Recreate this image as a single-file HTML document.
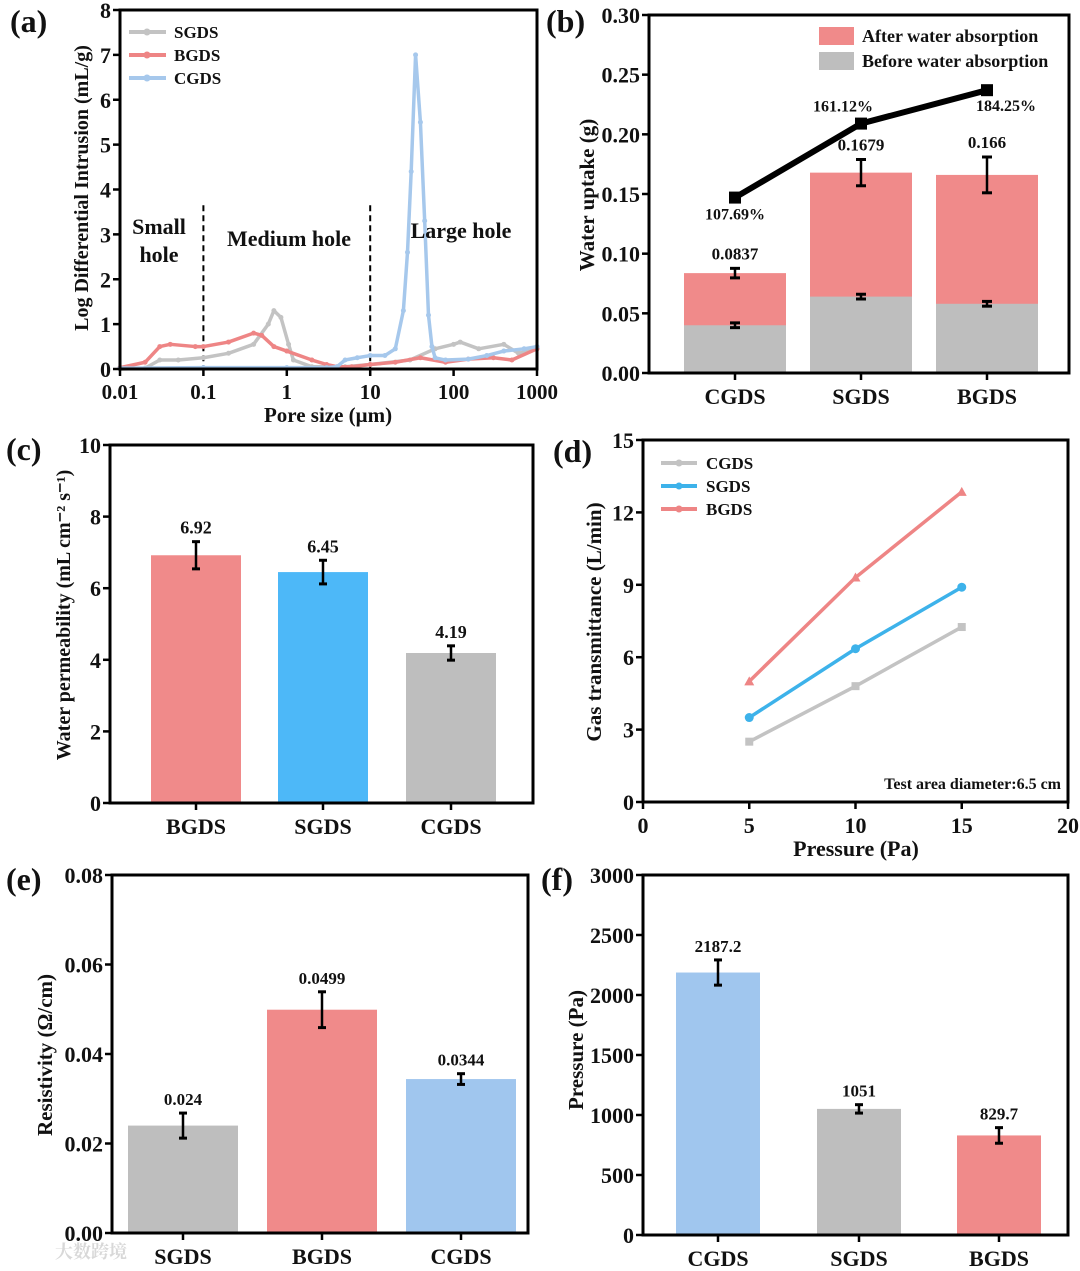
<!DOCTYPE html>
<html><head><meta charset="utf-8">
<style>
html,body{margin:0;padding:0;background:#fff;}
svg{display:block;font-family:"Liberation Serif","Noto Serif CJK SC",serif;font-weight:bold;}
</style></head>
<body>
<svg id="fig" width="1080" height="1271" viewBox="0 0 1080 1271" xmlns="http://www.w3.org/2000/svg"></svg>
<script>
// ---------- Panel (a) data ----------
const aCgdsX=[0.01,0.1,1,3,4,5,7,10,15,20,25,28,31,35,40,45,50,55,60,80,150,250,400,700,1000];
const aCgdsY=[0.02,0.03,0.03,0.03,0.05,0.2,0.25,0.3,0.3,0.45,1.3,2.6,4.4,7.0,5.5,3.3,1.2,0.5,0.25,0.2,0.22,0.3,0.4,0.45,0.5];
const aSgdsX=[0.01,0.02,0.03,0.05,0.1,0.2,0.4,0.6,0.7,0.85,1.05,1.2,2,5,10,30,60,100,120,200,400,600,1000];
const aSgdsY=[0.0,0.02,0.2,0.2,0.25,0.35,0.55,1.0,1.3,1.15,0.55,0.2,0.05,0.05,0.1,0.2,0.45,0.55,0.6,0.45,0.55,0.35,0.45];
const aBgdsX=[0.01,0.02,0.03,0.04,0.08,0.1,0.2,0.4,0.5,0.7,1,2,3,4,6,10,20,40,80,150,300,500,1000];
const aBgdsY=[0.03,0.15,0.5,0.55,0.5,0.5,0.6,0.8,0.75,0.5,0.4,0.2,0.1,0.05,0.05,0.1,0.15,0.25,0.15,0.22,0.25,0.2,0.45];
const aXTicks=[0.01,0.1,1,10,100,1000];
const aXTickLabels=["0.01","0.1","1","10","100","1000"];
const aYTicks=[0,1,2,3,4,5,6,7,8];
// ---------- Panel (b) data ----------
const bCats=["CGDS","SGDS","BGDS"];
const bBefore=[0.040,0.064,0.058];
const bBeforeErr=[0.002,0.002,0.002];
const bAfter=[0.0837,0.1679,0.166];
const bAfterErr=[0.004,0.011,0.015];
const bAfterLabels=["0.0837","0.1679","0.166"];
const bRatio=[0.147,0.209,0.237];
const bRatioLabels=["107.69%","161.12%","184.25%"];
const bYTicks=[0,0.05,0.10,0.15,0.20,0.25,0.30];
// ---------- Panel (c) data ----------
const cCats=["BGDS","SGDS","CGDS"];
const cVals=[6.92,6.45,4.19];
const cErr=[0.38,0.33,0.2];
const cLabels=["6.92","6.45","4.19"];
const cYTicks=[0,2,4,6,8,10];
// ---------- Panel (d) data ----------
const dX=[5,10,15];
const dCgds=[2.5,4.8,7.25];
const dSgds=[3.5,6.35,8.9];
const dBgds=[5.0,9.3,12.85];
const dXTicks=[0,5,10,15,20];
const dYTicks=[0,3,6,9,12,15];
// ---------- Panel (e) data ----------
const eCats=["SGDS","BGDS","CGDS"];
const eVals=[0.024,0.0499,0.0344];
const eErr=[0.0028,0.004,0.0012];
const eLabels=["0.024","0.0499","0.0344"];
const eYTicks=[0,0.02,0.04,0.06,0.08];
// ---------- Panel (f) data ----------
const fCats=["CGDS","SGDS","BGDS"];
const fVals=[2187.2,1051,829.7];
const fErr=[105,35,65];
const fLabels=["2187.2","1051","829.7"];
const fYTicks=[0,500,1000,1500,2000,2500,3000];

const NS="http://www.w3.org/2000/svg";
const svg=document.getElementById('fig');
function mk(tag,attrs,parent){const e=document.createElementNS(NS,tag);for(const k in attrs)e.setAttribute(k,attrs[k]);(parent||svg).appendChild(e);return e;}
function txt(s,x,y,size,anchor,parent,extra){const t=mk('text',Object.assign({x:x,y:y,'font-size':size,'text-anchor':anchor||'middle',fill:'#111'},extra||{}),parent);t.textContent=s;return t;}
function lin(a,b){return v=>b[0]+(v-a[0])*(b[1]-b[0])/(a[1]-a[0]);}
function logs(a,b){return v=>b[0]+(Math.log10(v)-Math.log10(a[0]))*(b[1]-b[0])/(Math.log10(a[1])-Math.log10(a[0]));}

function axesBox(g,L,R,T,B,name){
  const r=mk('rect',{x:L,y:T,width:R-L,height:B-T,fill:'none',stroke:'#000','stroke-width':3},g);
  
  
}
function yAxis(g,ticks,fmt,y,L,size,name){
  const ga=mk('g',{},g);
  
  
  ticks.forEach(v=>{mk('line',{x1:L-7,x2:L,y1:y(v),y2:y(v),stroke:'#000','stroke-width':2.5},ga);
    const t=txt(fmt(v),L-9,y(v)+8,size,'end',ga);
    
    });
}
function yTitle(g,s,x,y,size,name){
  const t=txt(s,x,y,size,'middle',g,{transform:'rotate(-90 '+x+' '+y+')'});
  
  
  return t;
}
function panelLabel(s,x,y){const t=txt(s,x,y,32,'start');
  
  }
function errBar(g,x,y1,y2,w){
  mk('line',{x1:x,x2:x,y1:y1,y2:y2,stroke:'#000','stroke-width':2.5},g);
  mk('line',{x1:x-w,x2:x+w,y1:y1,y2:y1,stroke:'#000','stroke-width':3},g);
  mk('line',{x1:x-w,x2:x+w,y1:y2,y2:y2,stroke:'#000','stroke-width':3},g);
}
function barPanel(name,L,R,T,B,cats,catX,vals,errs,labels,colors,bw,yt,ymax,fmt,lblSize,catY){
  const g=mk('g',{});
  
  
  const y=lin([0,ymax],[B,T]);
  cats.forEach((c,i)=>{
    const r=mk('rect',{x:catX[i]-bw/2,y:y(vals[i]),width:bw,height:B-y(vals[i]),fill:colors[i]},g);
    
    
    errBar(g,catX[i],y(vals[i]+errs[i]),y(vals[i]-errs[i]),4);
    const t=txt(labels[i],catX[i],y(vals[i]+errs[i])-8,lblSize,'middle',g);
    
    
    mk('line',{x1:catX[i],x2:catX[i],y1:B,y2:B+7,stroke:'#000','stroke-width':2.5},g);
    const ct=txt(c,catX[i],catY,22,'middle',g);
    
    
  });
  axesBox(g,L,R,T,B,name);
  yAxis(g,yt,fmt,y,L,22,name);
  return g;
}

// ===== Panel (a) =====
(function(){
  const L=120,R=537,T=10,B=369;
  const g=mk('g',{});
  
  
  const x=logs([0.01,1000],[L,R]), y=lin([0,8],[B,T]);
  [0.1,10].forEach(v=>{const d=mk('line',{x1:x(v),x2:x(v),y1:y(3.65),y2:B,stroke:'#000','stroke-width':2,'stroke-dasharray':'6,4'},g);
    
    });
  const series=[[aSgdsX,aSgdsY,'#c3c3c3','sgds'],[aBgdsX,aBgdsY,'#ee8585','bgds'],[aCgdsX,aCgdsY,'#a6c8ec','cgds']];
  series.forEach(s=>{
    const p=mk('polyline',{points:s[0].map((v,i)=>x(v)+','+y(s[1][i])).join(' '),fill:'none',stroke:s[2],'stroke-width':3.5,'stroke-linejoin':'round'},g);
    
    
    s[0].forEach((v,i)=>{mk('circle',{cx:x(v),cy:y(s[1][i]),r:2.5,fill:s[2]},g);});
  });
  [['SGDS','#c3c3c3',32],['BGDS','#ee8585',55],['CGDS','#a6c8ec',78]].forEach(l=>{
    const lg=mk('g',{},g);
    
    
    mk('line',{x1:129,x2:166,y1:l[2],y2:l[2],stroke:l[1],'stroke-width':4},lg);
    mk('circle',{cx:147,cy:l[2],r:3.5,fill:l[1]},lg);
    txt(l[0],174,l[2]+6,17,'start',lg);
  });
  [['Small',159,234],['hole',159,262],['Medium hole',289,246],['Large hole',461,238]].forEach(a=>{
    const t=txt(a[0],a[1],a[2],22,'middle',g);
    
    });
  axesBox(g,L,R,T,B,'panel-a');
  yAxis(g,aYTicks,v=>String(v),y,L,22,'panel-a');
  aXTicks.forEach((v,i)=>{mk('line',{x1:x(v),x2:x(v),y1:B,y2:B+7,stroke:'#000','stroke-width':2.5},g);
    const t=txt(aXTickLabels[i],x(v),B+30,21,'middle',g);
    
    });
  const xt=txt('Pore size (μm)',328,422,21,'middle',g);
  
  
  yTitle(g,'Log Differential Intrusion (mL/g)',88,188,20,'panel-a');
})();
panelLabel('(a)',10,32);

// ===== Panel (b) =====
(function(){
  const L=649,R=1069,T=15,B=373;
  const g=mk('g',{});
  
  
  const y=lin([0,0.30],[B,T]);
  const cx=[735,861,987], bw=102;
  bCats.forEach((c,i)=>{
    const ra=mk('rect',{x:cx[i]-bw/2,y:y(bAfter[i]),width:bw,height:B-y(bAfter[i]),fill:'#f08a8a'},g);
    
    
    const rb=mk('rect',{x:cx[i]-bw/2,y:y(bBefore[i]),width:bw,height:B-y(bBefore[i]),fill:'#bebebe'},g);
    
    
    errBar(g,cx[i],y(bAfter[i]+bAfterErr[i]),y(bAfter[i]-bAfterErr[i]),5);
    errBar(g,cx[i],y(bBefore[i]+bBeforeErr[i]),y(bBefore[i]-bBeforeErr[i]),5);
    const t=txt(bAfterLabels[i],cx[i],y(bAfter[i]+bAfterErr[i])-9,17,'middle',g);
    
    
    mk('line',{x1:cx[i],x2:cx[i],y1:B,y2:B+7,stroke:'#000','stroke-width':2.5},g);
    const ct=txt(c,cx[i],B+31,22,'middle',g);
    
    
  });
  const pl=mk('polyline',{points:bRatio.map((v,i)=>cx[i]+','+y(v)).join(' '),fill:'none',stroke:'#000','stroke-width':6},g);
  
  
  const offX=[0,-18,19], offY=[22,-12,21];
  bRatio.forEach((v,i)=>{mk('rect',{x:cx[i]-6,y:y(v)-6,width:12,height:12,fill:'#000'},g);
    const t=txt(bRatioLabels[i],cx[i]+offX[i],y(v)+offY[i],16,'middle',g);
    
    });
  [['After water absorption','#f08a8a',27],['Before water absorption','#bebebe',52]].forEach(l=>{
    const lg=mk('g',{},g);
    
    
    mk('rect',{x:819,y:l[2],width:35,height:18,fill:l[1]},lg);
    txt(l[0],862,l[2]+15,18,'start',lg);
  });
  axesBox(g,L,R,T,B,'panel-b');
  yAxis(g,bYTicks,v=>v.toFixed(2),y,L,22,'panel-b');
  yTitle(g,'Water uptake (g)',594,195,21,'panel-b');
})();
panelLabel('(b)',546,32);

// ===== Panel (c) =====
(function(){
  const g=barPanel('panel-c-water-permeability',110,533,445,803,cCats,[196,323,451],cVals,cErr,cLabels,['#f08a8a','#4db8f8','#bebebe'],90,cYTicks,10,v=>String(v),18,834);
  yTitle(g,'Water permeability (mL cm⁻² s⁻¹)',70,615,20,'panel-c');
})();
panelLabel('(c)',6,460);

// ===== Panel (d) =====
(function(){
  const L=643,R=1068,T=440,B=802;
  const g=mk('g',{});
  
  
  const x=lin([0,20],[L,R]), y=lin([0,15],[B,T]);
  const ser=[[dCgds,'#c3c3c3','cgds','sq'],[dSgds,'#3db2ea','sgds','ci'],[dBgds,'#ee8585','bgds','tr']];
  ser.forEach(s=>{
    const p=mk('polyline',{points:dX.map((v,i)=>x(v)+','+y(s[0][i])).join(' '),fill:'none',stroke:s[1],'stroke-width':3.5},g);
    
    
    dX.forEach((v,i)=>{
      let m;
      if(s[3]==='sq') m=mk('rect',{x:x(v)-4,y:y(s[0][i])-4,width:8,height:8,fill:s[1]},g);
      else if(s[3]==='ci') m=mk('circle',{cx:x(v),cy:y(s[0][i]),r:4.5,fill:s[1]},g);
      else m=mk('polygon',{points:(x(v))+','+(y(s[0][i])-5)+' '+(x(v)-5)+','+(y(s[0][i])+4)+' '+(x(v)+5)+','+(y(s[0][i])+4),fill:s[1]},g);
      
      
    });
  });
  [['CGDS','#c3c3c3',463],['SGDS','#3db2ea',486],['BGDS','#ee8585',509]].forEach(l=>{
    const lg=mk('g',{},g);
    
    
    mk('line',{x1:661,x2:697,y1:l[2],y2:l[2],stroke:l[1],'stroke-width':4},lg);
    mk('circle',{cx:679,cy:l[2],r:3.5,fill:l[1]},lg);
    txt(l[0],706,l[2]+6,17,'start',lg);
  });
  const note=txt('Test area diameter:6.5 cm',1061,789,16,'end',g);
  
  
  axesBox(g,L,R,T,B,'panel-d');
  yAxis(g,dYTicks,v=>String(v),y,L,22,'panel-d');
  dXTicks.forEach(v=>{mk('line',{x1:x(v),x2:x(v),y1:B,y2:B+7,stroke:'#000','stroke-width':2.5},g);
    const t=txt(String(v),x(v),B+31,22,'middle',g);
    
    });
  const xt=txt('Pressure (Pa)',856,856,22,'middle',g);
  
  
  yTitle(g,'Gas transmittance (L/min)',601,622,21,'panel-d');
})();
panelLabel('(d)',553,462);

// ===== Panel (e) =====
(function(){
  const g=barPanel('panel-e-resistivity',112,528,875,1233,eCats,[183,322,461],eVals,eErr,eLabels,['#bebebe','#f08a8a','#a0c6ee'],110,eYTicks,0.08,v=>v.toFixed(2),17,1264);
  yTitle(g,'Resistivity (Ω/cm)',52,1055,21,'panel-e');
})();
panelLabel('(e)',6,890);

// ===== Panel (f) =====
(function(){
  const g=barPanel('panel-f-pressure',643,1068,875,1235,fCats,[718,859,999],fVals,fErr,fLabels,['#a0c6ee','#bebebe','#f08a8a'],84,fYTicks,3000,v=>String(v),17,1266);
  yTitle(g,'Pressure (Pa)',583,1050,21,'panel-f');
})();
panelLabel('(f)',541,890);

const wm=txt('大数跨境',55,1258,18,'start',svg,{fill:'#d8d8d8'});


</script>
</body></html>
